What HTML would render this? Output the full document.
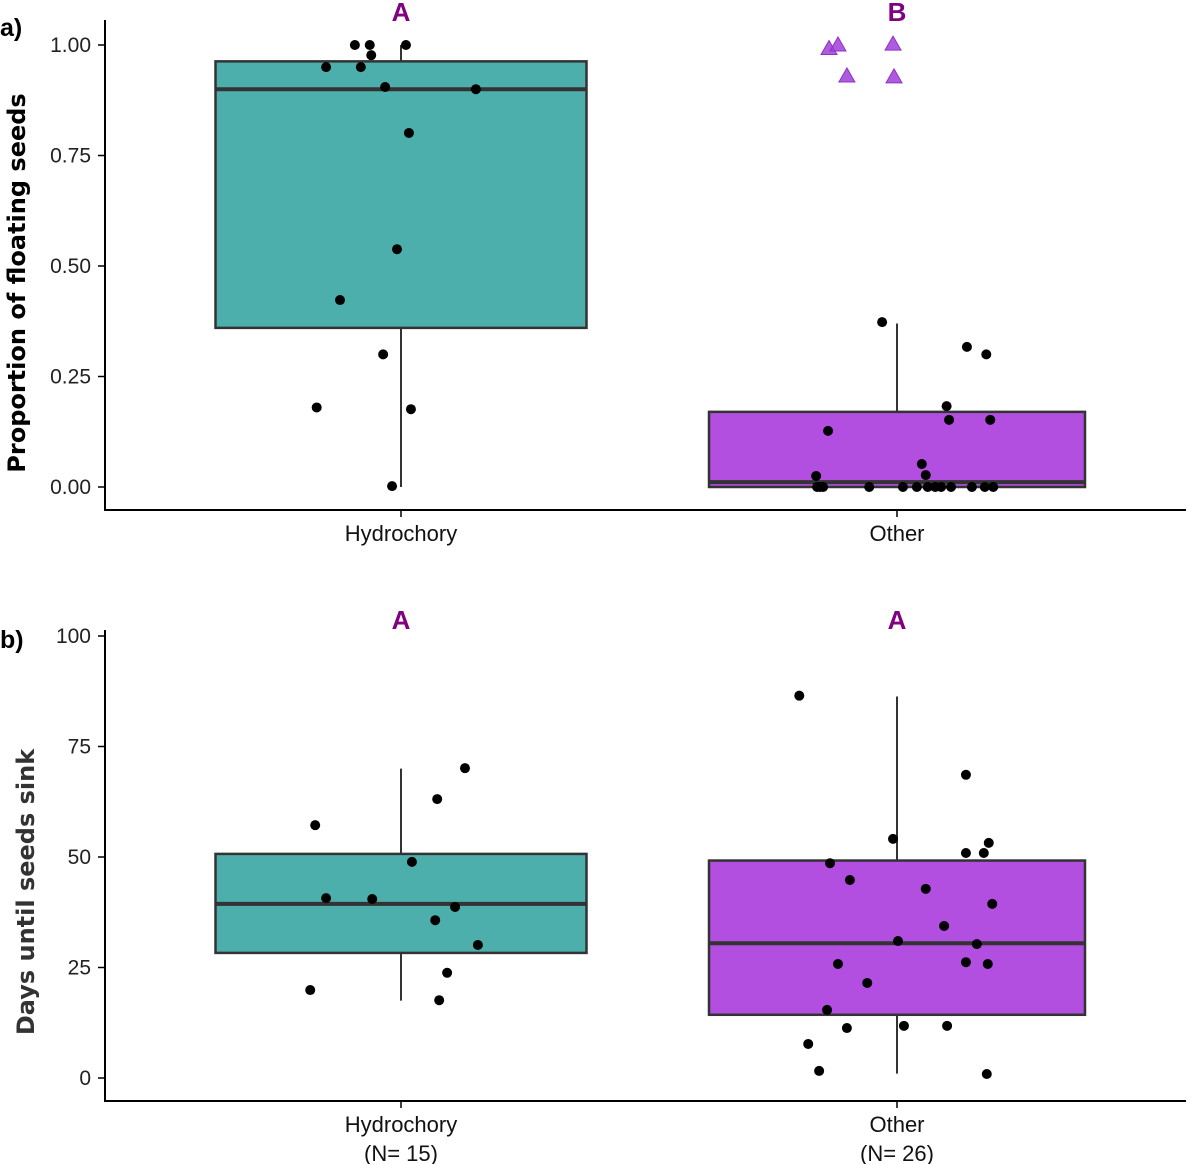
<!DOCTYPE html>
<html><head><meta charset="utf-8"><style>
body{margin:0;background:#fff}
svg{display:block;font-family:"Liberation Sans",sans-serif}
</style></head><body>
<svg id="c" width="1200" height="1164"></svg>
<script>
const categories=["Hydrochory","Other"];
// panel a
const aBoxes=[{q1:0.36,med:0.90,q3:0.963,lo:0,hi:1.0},{q1:0,med:0.011,q3:0.17,lo:0,hi:0.37}];
const aPtsH=[[-0.093,1],[-0.063,1],[0.01,1],[-0.06,0.977],[-0.151,0.95],[-0.081,0.95],[-0.032,0.905],[0.151,0.9],[0.016,0.801],[-0.008,0.538],[-0.123,0.423],[-0.036,0.3],[-0.17,0.18],[0.02,0.176],[-0.018,0.002]];
const aPtsO=[[-0.03,0.373],[0.141,0.317],[0.18,0.3],[0.1,0.183],[-0.139,0.127],[0.105,0.152],[0.188,0.152],[0.05,0.052],[-0.163,0.025],[0.058,0.027],[-0.161,0],[-0.149,0],[-0.056,0],[0.012,0],[0.04,0],[0.062,0],[0.077,0],[0.089,0],[0.109,0],[0.151,0],[0.177,0],[0.194,0],[-0.155,0]];
const aTri=[[-0.137,0.992],[-0.119,1],[-0.008,1.002],[-0.101,0.93],[-0.006,0.928]];
const aTicks=[0,0.25,0.5,0.75,1];
const aTickLabels=["0.00","0.25","0.50","0.75","1.00"];
// panel b
const bBoxes=[{q1:28.3,med:39.4,q3:50.7,lo:17.5,hi:70},{q1:14.3,med:30.5,q3:49.2,lo:1,hi:86.3}];
const bPtsH=[[0.129,70.1],[-0.173,57.2],[0.073,63.1],[0.022,48.9],[-0.151,40.7],[-0.058,40.5],[0.109,38.7],[0.069,35.7],[0.155,30.1],[0.093,23.8],[-0.183,19.9],[0.077,17.6]];
const bPtsO=[[-0.197,86.5],[0.139,68.6],[-0.008,54.1],[0.185,53.2],[0.139,50.9],[0.175,50.9],[-0.135,48.6],[-0.095,44.8],[0.058,42.8],[0.192,39.4],[0.095,34.4],[0.002,31.0],[0.161,30.3],[-0.119,25.8],[0.139,26.2],[0.183,25.8],[-0.06,21.5],[-0.141,15.4],[-0.101,11.3],[0.014,11.8],[0.101,11.8],[-0.179,7.7],[-0.157,1.6],[0.181,0.9]];
const bTicks=[0,25,50,75,100];
const bTickLabels=["0","25","50","75","100"];
const xLabelsB=[["Hydrochory","(N= 15)"],["Other","(N= 26)"]];

const svg=document.getElementById('c');
const NS="http://www.w3.org/2000/svg";
function mk(tag,at,parent){const e=document.createElementNS(NS,tag);for(const k in at)e.setAttribute(k,at[k]);(parent||svg).appendChild(e);return e;}
const xc=i=>401+496*i, xj=(i,o)=>xc(i)+496*o, halfW=[185.5,188];
const fills=["#4DAFAC","#B24FE0"];

function panel(p){
  const g=mk('g',{});
  
  
  const y=v=>p.y0-(v-p.min)/(p.max-p.min)*(p.y0-p.y1);
  const ax=mk('g',{},g);
  mk('line',{x1:105,y1:p.axTop,x2:105,y2:p.axY,stroke:'#000','stroke-width':2},ax);
  mk('line',{x1:104,y1:p.axY,x2:1186,y2:p.axY,stroke:'#000','stroke-width':2},ax);
  p.ticks.forEach((t,k)=>{
    mk('line',{x1:98,y1:y(t),x2:105,y2:y(t),stroke:'#000','stroke-width':1.5},ax);
    const tx=mk('text',{x:91,y:y(t)+7,'text-anchor':'end','font-size':21,fill:'#222'},ax);tx.textContent=p.tickLabels[k];
    
  });
  categories.forEach((c,i)=>{
    mk('line',{x1:xc(i),y1:p.axY,x2:xc(i),y2:p.axY+7,stroke:'#000','stroke-width':1.5},ax);
    p.xl[i].forEach((s,j)=>{const t=mk('text',{x:xc(i),y:p.axY+31+j*29,'text-anchor':'middle','font-size':22,fill:'#111'},ax);t.textContent=s;
      });
    const b=p.boxes[i], w=halfW[i];
    const bx=mk('g',{},g);
    mk('line',{x1:xc(i),y1:y(b.lo),x2:xc(i),y2:y(b.hi),stroke:'#333','stroke-width':2},bx);
    mk('rect',{x:xc(i)-w,y:y(b.q3),width:2*w,height:y(b.q1)-y(b.q3),fill:fills[i],stroke:'#333','stroke-width':2.5},bx);
    mk('line',{x1:xc(i)-w,y1:y(b.med),x2:xc(i)+w,y2:y(b.med),stroke:'#333','stroke-width':4},bx);
    const L=mk('text',{x:xc(i),y:p.letterY,'text-anchor':'middle','font-size':26,'font-weight':'bold',fill:'#800080'},g);
    L.textContent=p.letters[i];
  });
  p.pts.forEach((arr,i)=>arr.forEach(d=>{
    const c=mk('circle',{cx:xj(i,d[0]),cy:y(d[1]),r:5,fill:'#000'},g);
    
  }));
  (p.tri||[]).forEach(d=>{
    const cx=xj(1,d[0]),cy=y(d[1]);
    const t=mk('polygon',{points:`${cx},${cy-8} ${cx-8},${cy+6} ${cx+8},${cy+6}`,fill:'#A040D8','fill-opacity':0.85,stroke:'#9030C8','stroke-width':1},g);
    
  });
  const lab=mk('text',{x:0,y:p.tagY,'font-size':25,'font-weight':'bold',fill:'#000'},g);lab.textContent=p.tag;
  
  const yt=mk('text',{x:0,y:0,transform:`translate(${p.titleX},${p.titleY}) rotate(-90)`,'text-anchor':'middle','font-size':24,'font-weight':'bold',fill:p.titleFill,'font-family':'"DejaVu Sans",sans-serif'},g);
  yt.textContent=p.title;
}
panel({name:'panel-a',min:0,max:1,y0:487,y1:45,axTop:20,axY:510,ticks:aTicks,tickLabels:aTickLabels,boxes:aBoxes,pts:[aPtsH,aPtsO],tri:aTri,
  xl:[["Hydrochory"],["Other"]],letters:["A","B"],letterY:21,tag:"a)",tagY:36,title:"Proportion of floating seeds",titleX:25,titleY:283,titleFill:'#000'});
panel({name:'panel-b',min:0,max:100,y0:1078,y1:636,axTop:630,axY:1101,ticks:bTicks,tickLabels:bTickLabels,boxes:bBoxes,pts:[bPtsH,bPtsO],
  xl:xLabelsB,letters:["A","A"],letterY:629,tag:"b)",tagY:648,title:"Days until seeds sink",titleX:34,titleY:892,titleFill:'#333'});
</script>
</body></html>
